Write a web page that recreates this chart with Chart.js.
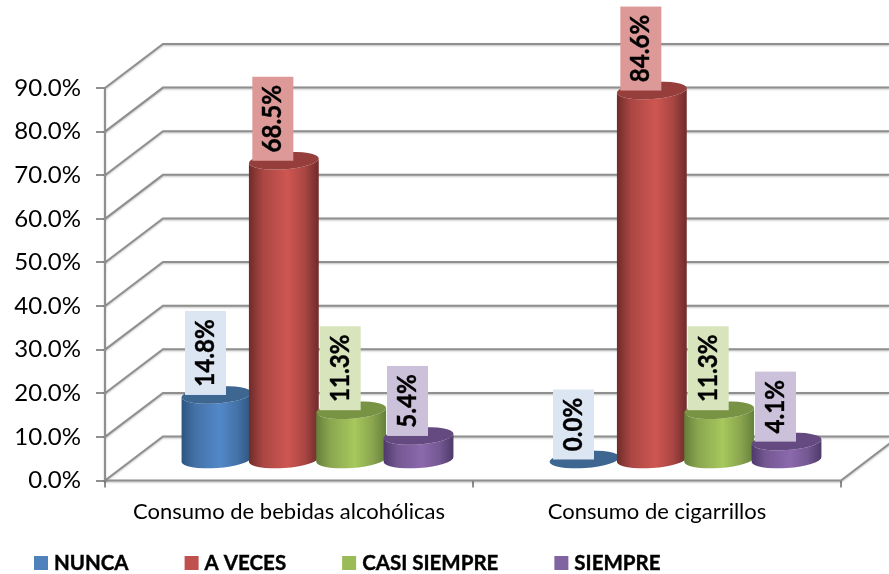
<!DOCTYPE html>
<html>
<head>
<meta charset="utf-8">
<title>Consumo</title>
<script src="https://cdn.jsdelivr.net/npm/chart.js@4"></script>
<style>
    html, body { margin: 0; padding: 0; background: #fff; }
    canvas { display: block; }
</style>
</head>
<body>
<canvas id="chart" width="889" height="574"></canvas>
<script>
const categories = ['Consumo de bebidas alcohólicas', 'Consumo de cigarrillos'];
const seriesNames = ['NUNCA', 'A VECES', 'CASI SIEMPRE', 'SIEMPRE'];
const nunca = [14.8, 0.0];
const aVeces = [68.5, 84.6];
const casiSiempre = [11.3, 11.3];
const siempre = [5.4, 4.1];

const FONT = 'Lato, "Open Sans", sans-serif';

// edge, mid, light, cap, label box, legend swatch
const palette = [
    { edge: '#2c5480', mid: '#4472a8', light: '#5288c9', cap: '#3d6691', box: '#dce6f2', swatch: '#4f81bd' },
    { edge: '#6f2b29', mid: '#a94643', light: '#cf5651', cap: '#953e3b', box: '#dc9997', swatch: '#c0504d' },
    { edge: '#64803a', mid: '#8ba64f', light: '#a6c85d', cap: '#789344', box: '#d8e4bc', swatch: '#9bbb59' },
    { edge: '#4e3a6b', mid: '#745892', light: '#8c69ad', cap: '#644a80', box: '#ccc1da', swatch: '#8064a2' }
];

// how far the back wall sits behind the front axes
const DEPTH_X = 58;
const DEPTH_Y = 44;
const RX = 35;
const RY = 8.5;
const TILT = -4 * Math.PI / 180;
const LABEL_SQUEEZE = 0.93;

const frame3d = {
    id: 'frame3d',
    beforeDatasetsDraw(chart) {
        const { ctx, scales: { x, y }, chartArea, width } = chart;
        const left = chartArea.left, right = chartArea.right, bottom = chartArea.bottom;
        ctx.save();
        ctx.strokeStyle = '#8f8f8f';
        ctx.lineWidth = 2;
        ctx.shadowColor = 'rgba(0,0,0,0.25)';
        ctx.shadowOffsetY = 1;
        ctx.shadowBlur = 2;
        y.ticks.forEach(t => {
            const py = y.getPixelForValue(t.value);
            ctx.beginPath();
            ctx.moveTo(left, py);
            ctx.lineTo(left + DEPTH_X, py - DEPTH_Y);
            ctx.lineTo(width, py - DEPTH_Y);
            ctx.stroke();
        });
        // front of the floor and its right side
        ctx.beginPath();
        ctx.moveTo(left, bottom);
        ctx.lineTo(right, bottom);
        ctx.lineTo(right + DEPTH_X, bottom - DEPTH_Y);
        ctx.stroke();
        ctx.beginPath();
        ctx.moveTo(left, y.top);
        ctx.lineTo(left, bottom);
        ctx.stroke();
        ctx.restore();
    }
};

function ellipsePath(ctx, cx, cy, start, end, ccw) {
    ctx.ellipse(cx, cy, RX, RY, TILT, start, end, ccw);
}

const cylinders = {
    id: 'cylinders',
    afterDatasetsDraw(chart) {
        const { ctx, scales: { y } } = chart;
        const cxShift = DEPTH_X / 2 - 0.5;
        const cyShift = DEPTH_Y / 2 - 1;

        chart.data.datasets.forEach((ds, i) => {
            const colors = palette[i];
            chart.getDatasetMeta(i).data.forEach((bar, j) => {
                const cx = bar.x + cxShift;
                const top = bar.y - cyShift;
                const base = y.getPixelForValue(0) - cyShift;
                ctx.save();
                if (ds.data[j] > 0) {
                    const g = ctx.createLinearGradient(cx - RX, 0, cx + RX, 0);
                    g.addColorStop(0, colors.edge);
                    g.addColorStop(0.2, colors.mid);
                    g.addColorStop(0.55, colors.light);
                    g.addColorStop(0.8, colors.mid);
                    g.addColorStop(1, colors.edge);
                    ctx.fillStyle = g;
                    ctx.beginPath();
                    ellipsePath(ctx, cx, top, Math.PI, 0, true);
                    ellipsePath(ctx, cx, base, 0, Math.PI, false);
                    ctx.closePath();
                    ctx.fill();
                }
                ctx.fillStyle = colors.cap;
                ctx.beginPath();
                ellipsePath(ctx, cx, top, 0, Math.PI * 2, false);
                ctx.fill();
                ctx.restore();
            });
        });

        // value labels go over every cylinder
        chart.data.datasets.forEach((ds, i) => {
            chart.getDatasetMeta(i).data.forEach((bar, j) => {
                const text = ds.data[j].toFixed(1) + '%';
                const cx = bar.x + cxShift - 11;
                const top = bar.y - cyShift;
                ctx.save();
                ctx.font = 'bold 26px ' + FONT;
                const h = Math.round(ctx.measureText(text).width * LABEL_SQUEEZE) + 16;
                ctx.fillStyle = palette[i].box;
                ctx.fillRect(cx - 20.5, top - h, 41, h);
                ctx.translate(cx, top - h / 2);
                ctx.rotate(-Math.PI / 2);
                ctx.scale(LABEL_SQUEEZE, 1);
                ctx.fillStyle = '#000';
                ctx.strokeStyle = '#000';
                ctx.lineWidth = 0.4;
                ctx.textAlign = 'center';
                ctx.textBaseline = 'middle';
                ctx.fillText(text, 0, 0);
                ctx.strokeText(text, 0, 0);
                ctx.restore();
            });
        });

        // legend row
        ctx.save();
        ctx.font = 'bold 20.5px ' + FONT;
        ctx.textBaseline = 'middle';
        ctx.lineWidth = 0.4;
        let lx = 34;
        seriesNames.forEach((name, i) => {
            ctx.fillStyle = palette[i].swatch;
            ctx.fillRect(lx, 556, 14, 14);
            ctx.fillStyle = '#000';
            ctx.strokeStyle = '#000';
            ctx.fillText(name, lx + 20, 563);
            ctx.strokeText(name, lx + 20, 563);
            lx += 20 + ctx.measureText(name).width + 56;
        });
        ctx.restore();
    }
};

new Chart(document.getElementById('chart'), {
    type: 'bar',
    data: {
        labels: categories,
        datasets: [
            { label: seriesNames[0], data: nunca, backgroundColor: 'transparent' },
            { label: seriesNames[1], data: aVeces, backgroundColor: 'transparent' },
            { label: seriesNames[2], data: casiSiempre, backgroundColor: 'transparent' },
            { label: seriesNames[3], data: siempre, backgroundColor: 'transparent' }
        ]
    },
    options: {
        responsive: false,
        animation: false,
        layout: { padding: { top: 88, right: 48, left: 0, bottom: 0 } },
        plugins: { legend: { display: false }, tooltip: { enabled: false } },
        datasets: { bar: { categoryPercentage: 0.732, barPercentage: 1 } },
        scales: {
            x: {
                afterFit(scale) { scale.height = 93.5; },
                grid: { drawOnChartArea: false, color: '#8f8f8f', lineWidth: 2, tickLength: 7 },
                border: { display: false },
                ticks: { color: '#000', font: { family: FONT, size: 22 }, padding: 11, maxRotation: 0 }
            },
            y: {
                min: 0,
                max: 90,
                afterFit(scale) { scale.width = 105; },
                grid: { drawOnChartArea: false, color: '#8f8f8f', lineWidth: 2, tickLength: 9 },
                border: { display: false },
                ticks: {
                    stepSize: 10,
                    color: '#000',
                    font: { family: FONT, size: 24 },
                    padding: 15,
                    callback: v => v.toFixed(1) + '%'
                }
            }
        }
    },
    plugins: [frame3d, cylinders]
});
</script>
</body>
</html>
